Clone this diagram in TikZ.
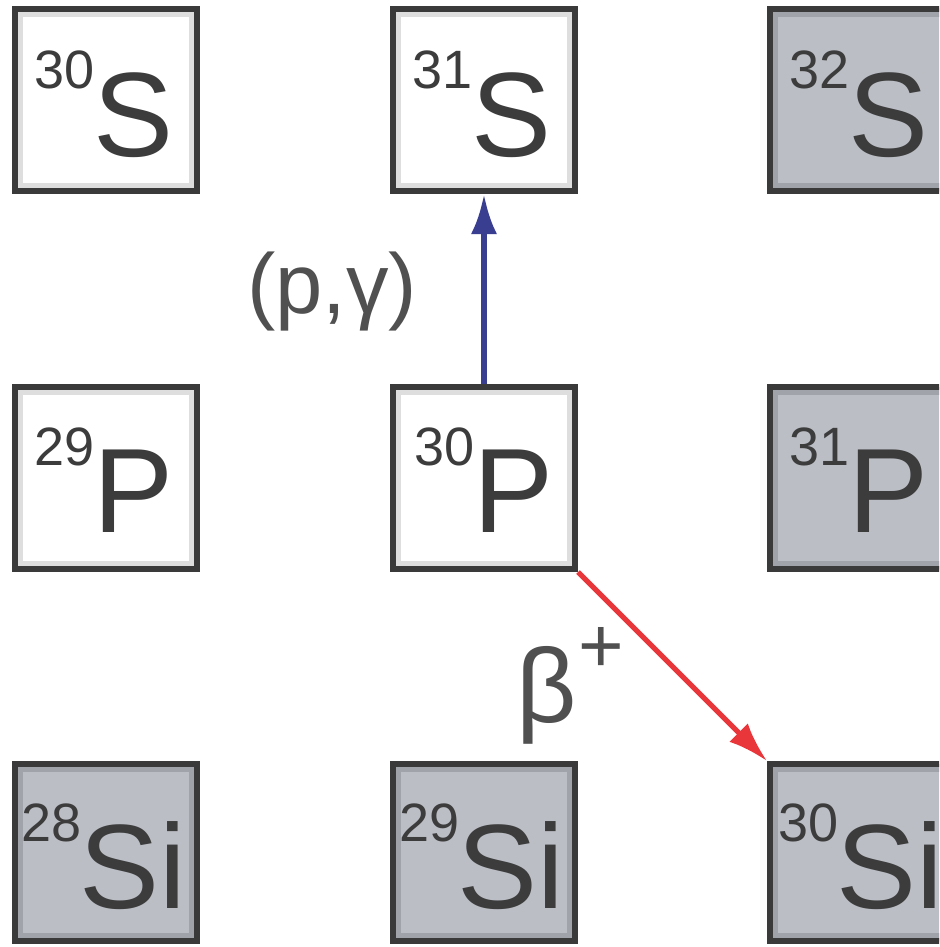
\documentclass[tikz,border=0pt]{standalone}
\usepackage{fontspec}
\setmainfont{Liberation Sans}
\usetikzlibrary{arrows.meta}
\definecolor{boxgray}{RGB}{187,190,197}
\definecolor{edgecol}{RGB}{58,58,58}
\definecolor{txtcol}{RGB}{60,60,60}
\definecolor{arrblue}{RGB}{58,62,145}
\definecolor{arrred}{RGB}{232,54,58}
\definecolor{labcol}{RGB}{80,80,80}
\definecolor{innerwhite}{RGB}{222,222,222}
\definecolor{innergray}{RGB}{160,163,169}
\newcommand{\nucl}[2]{{\fontsize{54}{54}\selectfont\raisebox{67pt}{#1}}\kern-2pt{\fontsize{120}{120}\selectfont #2}}
\begin{document}
\begin{tikzpicture}[x=1pt,y=-1pt,
  boxbase/.style={draw=edgecol, line width=6pt, minimum width=182pt, minimum height=182pt, inner sep=0pt},
  whitebox/.style={boxbase, fill=white,
    path picture={\draw[line width=16pt, innerwhite] (path picture bounding box.south west) rectangle (path picture bounding box.north east);}},
  graybox/.style={boxbase, fill=boxgray,
    path picture={\draw[line width=16pt, innergray] (path picture bounding box.south west) rectangle (path picture bounding box.north east);}},
  lowrow/.style={minimum height=177pt},
  nuctext/.style={text=txtcol, inner sep=0pt, anchor=base},
  lbl/.style={text=labcol, inner sep=0pt, font=\fontsize{85}{85}\selectfont},
  bluearr/.style={draw=arrblue, line width=6pt, -{Latex[length=40pt,width=26pt]}},
  redarr/.style={draw=arrred, line width=5pt, -{Latex[length=40pt,width=26pt]}}
]
\useasboundingbox (0,0) rectangle (939,947);
\clip (0,0) rectangle (939,947);
\fill[white] (0,0) rectangle (939,947);
% boxes
\node[whitebox] (S30) at (106,100) {};
\node[whitebox] (S31) at (484,100) {};
\node[graybox]  (S32) at (861,100) {};
\node[whitebox] (P29) at (106,478) {};
\node[whitebox] (P30) at (484,478) {};
\node[graybox]  (P31) at (861,478) {};
\node[graybox,lowrow] (Si28) at (106,852.5) {};
\node[graybox,lowrow] (Si29) at (484,852.5) {};
\node[graybox,lowrow] (Si30) at (861,852.5) {};
% texts
\node[nuctext] (tS30) at (104,156) {\nucl{30}{S}};
\node[nuctext] (tS31) at (482,156) {\nucl{31}{S}};
\node[nuctext] (tS32) at (859,156) {\nucl{32}{S}};
\node[nuctext] (tP29) at (104,532) {\nucl{29}{P}};
\node[nuctext] (tP30) at (484,532) {\nucl{30}{P}};
\node[nuctext] (tP31) at (859,532) {\nucl{31}{P}};
\node[nuctext] (tSi28) at (104,908) {\nucl{28}{Si}};
\node[nuctext] (tSi29) at (482,908) {\nucl{29}{Si}};
\node[nuctext] (tSi30) at (861,908) {\nucl{30}{Si}};
% arrows
\draw[bluearr] (P30.north) -- (S31.south);
\draw[redarr] (P30.south east) -- (Si30.north west);
% labels
\node[lbl, anchor=base] (pg) at (332,313) {(p,γ)};
\node[lbl, anchor=base west] (bp) at (516,722) {{\fontsize{105}{105}\selectfont β}\kern2pt\raisebox{50pt}{\fontsize{78}{78}\selectfont +}};
\end{tikzpicture}
\end{document}
